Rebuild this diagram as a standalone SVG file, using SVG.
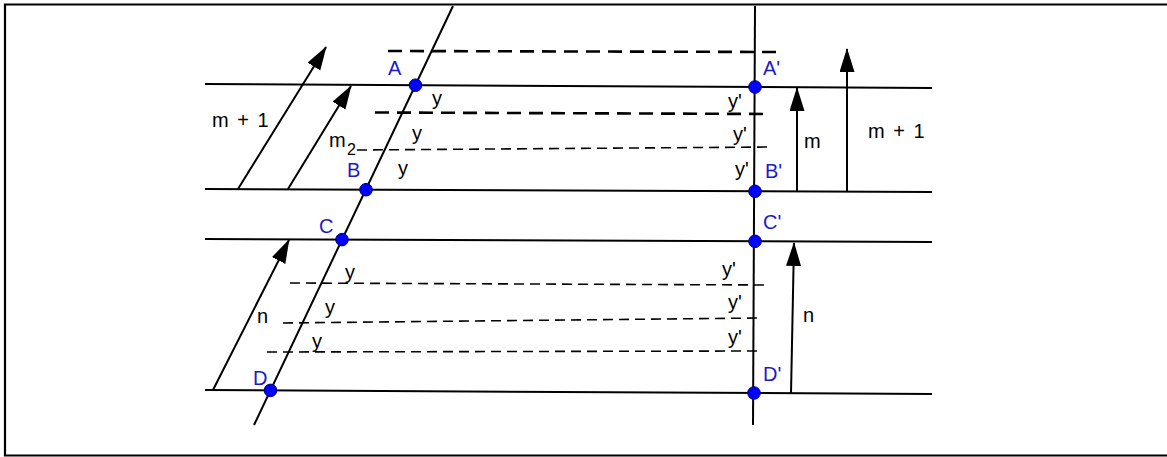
<svg xmlns="http://www.w3.org/2000/svg" width="1167" height="457" viewBox="0 0 1167 457">
<defs>
<style>
.ln{stroke:#000;stroke-width:2;fill:none}
.dk{stroke:#000;stroke-width:2.6;stroke-dasharray:14 8;fill:none}
.dt{stroke:#000;stroke-width:1.6;stroke-dasharray:10 6;fill:none}
.ar{stroke:#000;stroke-width:2;fill:none;marker-end:url(#ah)}
.pt{fill:#0000ff;stroke:#00007a;stroke-width:1}
.bl{font-family:"Liberation Sans",Arial,sans-serif;font-size:20px;fill:#1a1acc}
.tx{font-family:"Liberation Sans",Arial,sans-serif;font-size:20px;fill:#000}
</style>
<marker id="ah" markerUnits="userSpaceOnUse" markerWidth="26" markerHeight="16" refX="23" refY="7.5" orient="auto">
<path d="M0,0 L24,7.5 L0,15 Z" fill="#000"/>
</marker>
</defs>
<path d="M1167,4.5 H5 V455.5 H1167" fill="none" stroke="#000" stroke-width="2.2"/>
<g id="connectors">
<line class="ln" x1="205" y1="84" x2="932" y2="88"/>
<line class="ln" x1="205" y1="189" x2="932" y2="192"/>
<line class="ln" x1="205" y1="239" x2="932" y2="242"/>
<line class="ln" x1="205" y1="390" x2="932" y2="394"/>
<line class="ln" x1="453" y1="6" x2="254" y2="425"/>
<line class="ln" x1="755" y1="6" x2="753" y2="425"/>
<line class="dk" x1="388" y1="51" x2="783" y2="52"/>
<line class="dk" x1="375" y1="112.5" x2="769" y2="114"/>
<line class="dt" x1="357" y1="150" x2="771" y2="147"/>
<line class="dt" x1="290" y1="283" x2="767" y2="285"/>
<line class="dt" x1="283" y1="323" x2="760" y2="318"/>
<line class="dt" x1="267" y1="352" x2="762" y2="351"/>
<line class="ar" x1="238" y1="189" x2="326" y2="47"/>
<line class="ar" x1="288" y1="189" x2="351" y2="86"/>
<line class="ar" x1="213" y1="390" x2="289" y2="240"/>
<line class="ar" x1="797" y1="192" x2="797" y2="88"/>
<line class="ar" x1="847" y1="192" x2="847" y2="49"/>
<line class="ar" x1="791" y1="394" x2="794" y2="243"/>
</g>
<g id="A"><circle class="pt" cx="415.5" cy="85.2" r="6.3"/><text class="bl" x="388" y="75">A</text></g>
<g id="B"><circle class="pt" cx="366" cy="189.7" r="6.3"/><text class="bl" x="347" y="177">B</text></g>
<g id="C"><circle class="pt" cx="342" cy="239.6" r="6.3"/><text class="bl" x="319" y="233">C</text></g>
<g id="D"><circle class="pt" cx="270.5" cy="390.4" r="6.3"/><text class="bl" x="253" y="385">D</text></g>
<g id="A2"><circle class="pt" cx="755" cy="87" r="6.3"/><text class="bl" x="763" y="75">A'</text></g>
<g id="B2"><circle class="pt" cx="755" cy="191.3" r="6.3"/><text class="bl" x="765" y="178">B'</text></g>
<g id="C2"><circle class="pt" cx="755" cy="241.3" r="6.3"/><text class="bl" x="763" y="229">C'</text></g>
<g id="D2"><circle class="pt" cx="754" cy="393" r="6.3"/><text class="bl" x="763" y="381">D'</text></g>
<g id="labels">
<text class="tx" x="212" y="127" word-spacing="3">m + 1</text>
<text class="tx" x="329" y="147">m<tspan x="347" y="155" font-size="16">2</tspan></text>
<text class="tx" x="868" y="138" word-spacing="3">m + 1</text>
<text class="tx" x="804" y="148">m</text>
<text class="tx" x="257" y="323">n</text>
<text class="tx" x="803" y="322">n</text>
<text class="tx" x="432" y="105">y</text>
<text class="tx" x="412" y="140">y</text>
<text class="tx" x="398" y="175">y</text>
<text class="tx" x="728" y="108">y'</text>
<text class="tx" x="733" y="141">y'</text>
<text class="tx" x="735" y="176">y'</text>
<text class="tx" x="345" y="279">y</text>
<text class="tx" x="325" y="314">y</text>
<text class="tx" x="312" y="348">y</text>
<text class="tx" x="722" y="276">y'</text>
<text class="tx" x="728" y="309">y'</text>
<text class="tx" x="728" y="344">y'</text>
</g>
</svg>
